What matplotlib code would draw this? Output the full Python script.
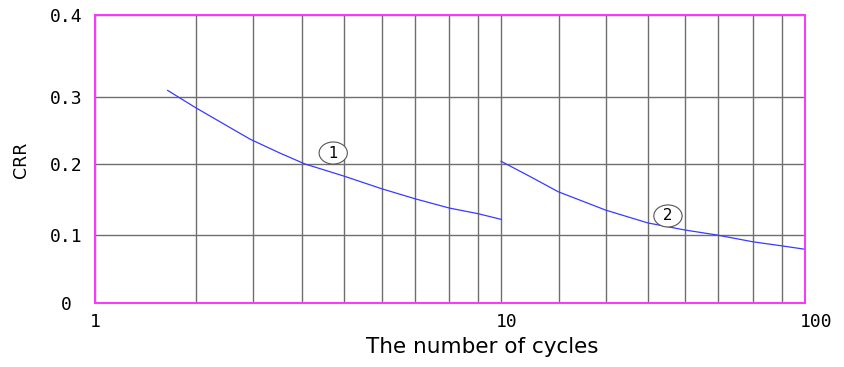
import numpy as np
import matplotlib.pyplot as plt
from matplotlib.transforms import ScaledTranslation

# Curve 1: cycles 1.5 - 10
CYCLES_1 = [1.51, 1.77, 2.41, 2.86, 3.29, 4.10, 5.09, 6.14, 7.45, 8.78, 10.0]
CRR_1 = [0.308, 0.284, 0.237, 0.216, 0.200, 0.183, 0.165, 0.151, 0.138, 0.130, 0.122]

# Curve 2: cycles 10 - 100
CYCLES_2 = [10.0, 12.5, 15.4, 22.1, 30.4, 40.3, 51.3, 67.4, 84.0, 100.0]
CRR_2 = [0.204, 0.182, 0.161, 0.135, 0.117, 0.107, 0.100, 0.090, 0.084, 0.079]

CURVE_NAMES = ["1", "2"]
NAME_AT = [(3.86, 0.2164), (35.4, 0.1268)]

X_TICKS = [1, 10, 100]
X_TICK_LABELS = ["1", "10", "100"]
Y_TICKS = [0.0, 0.1, 0.2, 0.3, 0.4]
Y_TICK_LABELS = ["0 ", "0.1", "0.2", "0.3", "0.4"]
X_GRID = [1.77, 2.45, 3.23, 4.10, 5.09, 6.14, 7.45, 8.78,
          15.5, 22.1, 30.4, 40.3, 51.8, 67.4, 84.0]

# axis geometry of the plotting program (fraction of the frame)
X_DECADE_POS = [0.0, 0.572, 1.0]
Y_TICK_POS = np.array([0, 68, 139, 206, 288]) / 288


def x_fwd(n):
    return np.interp(np.log10(np.maximum(n, 1e-9)), [0, 1, 2], X_DECADE_POS)


def x_inv(u):
    return 10 ** np.interp(u, X_DECADE_POS, [0, 1, 2])


def y_fwd(v):
    return np.interp(v, Y_TICKS, Y_TICK_POS)


def y_inv(u):
    return np.interp(u, Y_TICK_POS, Y_TICKS)


fig = plt.figure(figsize=(8.45, 3.67), dpi=100)
ax = fig.add_axes([95 / 845, 1 - 303 / 367, 710 / 845, 288 / 367])

ax.set_xscale("function", functions=(x_fwd, x_inv))
ax.set_yscale("function", functions=(y_fwd, y_inv))
ax.set_xlim(1, 100)
ax.set_ylim(0, 0.4)

ax.set_xticks(X_TICKS)
ax.set_xticks(X_GRID, minor=True)
ax.set_yticks(Y_TICKS)
ax.set_xticklabels(X_TICK_LABELS, family="DejaVu Sans Mono", fontsize=13, ha="left")
ax.set_yticklabels(Y_TICK_LABELS, family="DejaVu Sans Mono", fontsize=13)
ax.tick_params(which="both", length=0)
ax.tick_params(axis="x", pad=7)
ax.tick_params(axis="y", pad=9)
shift = ScaledTranslation(-5 / 100, 0, fig.dpi_scale_trans)
for lab in ax.get_xticklabels():
    lab.set_transform(lab.get_transform() + shift)

ax.grid(True, which="major", color="#6e6e6e", lw=1.0)
ax.grid(True, which="minor", axis="x", color="#6e6e6e", lw=1.0)
for sp in ax.spines.values():
    sp.set_color("#ff33ff")
    sp.set_linewidth(1.4)
    sp.set_zorder(3)

ax.plot(CYCLES_1, CRR_1, color="#3a3aff", lw=0.9)
ax.plot(CYCLES_2, CRR_2, color="#3a3aff", lw=0.9)

for name, (nx, ny) in zip(CURVE_NAMES, NAME_AT):
    ax.text(nx, ny, " " + name + " ", fontsize=11, ha="center", va="center",
            bbox=dict(boxstyle="ellipse,pad=0.02", fc="white", ec="#555555", lw=0.8))

fig.text(482 / 845, 1 - 347 / 367, "The number of cycles", fontsize=15.5,
         ha="center", va="center")
fig.text(21 / 845, 1 - 160 / 367, "CRR", fontsize=12.5, rotation=90,
         ha="center", va="center")

fig.savefig("out.png", dpi=100)
